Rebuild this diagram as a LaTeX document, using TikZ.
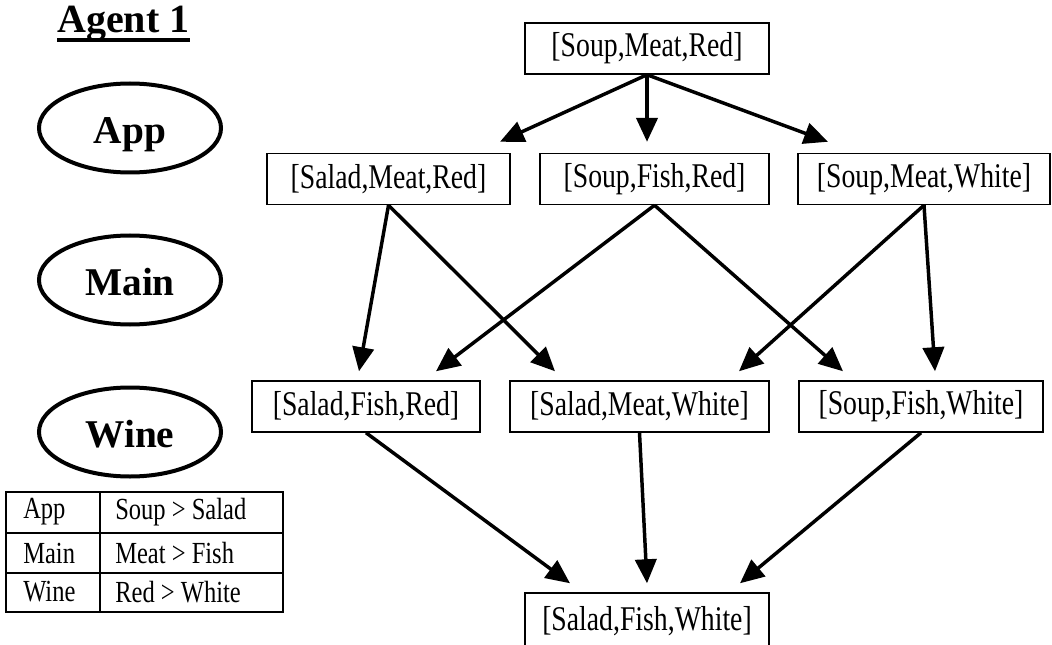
\documentclass[tikz,border=0pt]{standalone}
\usepackage{fontspec}
\setmainfont{Liberation Serif}
\newfontfamily\regfont[FakeStretch=0.8]{Liberation Serif}
\usetikzlibrary{shapes.geometric,arrows.meta,calc}
\begin{document}
\begin{tikzpicture}[x=0.75pt,y=-0.75pt,
 state/.style={draw,line width=1.1pt,rectangle,minimum height=51*0.75pt,inner sep=0pt,font=\regfont\fontsize{26}{30}\selectfont},
 bw/.style={minimum width=#1*0.75pt},
 arr/.style={line width=2.6pt,-{Triangle[length=18pt,width=16pt]}},
 oval/.style={line width=3pt},
 lvltext/.style={anchor=base,inner sep=0pt,font=\bfseries\fontsize{29.5}{34}\selectfont},
 cell/.style={anchor=west,inner sep=0pt,font=\regfont\fontsize{23}{26}\selectfont},
 tbl/.style={line width=1.4pt}
]
\useasboundingbox (0,0) rectangle (1052,645);
% title
\node[anchor=base west,inner sep=0pt,font=\bfseries\fontsize{30}{34}\selectfont] (title) at (57,33) {Agent 1};
\draw[line width=3pt] ($(title.base west)+(0,7)$) -- ($(title.base east)+(0,7)$);
% level ellipses
\coordinate (appc) at (130,128);
\coordinate (mainc) at (130,280);
\coordinate (winec) at (130,432);
\draw[oval] (appc) ellipse [x radius=91, y radius=44.5];
\draw[oval] (mainc) ellipse [x radius=91, y radius=44.5];
\draw[oval] (winec) ellipse [x radius=91, y radius=44.5];
\node[lvltext] (app) at (130,144) {App};
\node[lvltext] (main) at (130,295) {Main};
\node[lvltext] (wine) at (130,447) {Wine};
% table
\draw[tbl] (6,492) rectangle (283,612);
\draw[tbl] (6,533) -- (283,533);
\draw[tbl] (6,573) -- (283,573);
\draw[tbl] (100,492) -- (100,612);
\node[cell] (ta) at (23,512) {App};
\node[cell] (tb) at (115,512) {Soup > Salad};
\node[cell] (tc) at (23,553) {Main};
\node[cell] (td) at (115,553) {Meat > Fish};
\node[cell] (te) at (23,592) {Wine};
\node[cell] (tf) at (115,592) {Red > White};
% lattice
\node[state,bw=244] (top) at (647,48.5) {[Soup,Meat,Red]};
\node[state,bw=243] (smr) at (388.5,179) {[Salad,Meat,Red]};
\node[state,bw=229] (sfr) at (654.5,179) {[Soup,Fish,Red]};
\node[state,bw=252] (smw) at (924,179) {[Soup,Meat,White]};
\node[state,bw=228] (safr) at (366,406.5) {[Salad,Fish,Red]};
\node[state,bw=259] (samw) at (639.5,406.5) {[Salad,Meat,White]};
\node[state,bw=244] (sofw) at (921,406.5) {[Soup,Fish,White]};
\node[state,bw=244,minimum height=57*0.75pt] (bot) at (647,621.5) {[Salad,Fish,White]};
% arrows
\draw[arr] (top.south) -- ($(smr.north)+(111.5,-11)$);
\draw[arr] (top.south) -- ($(sfr.north)+(-7.5,-11)$);
\draw[arr] (top.south) -- ($(smw.north)+(-96,-11)$);
\draw[arr] (smr.south) -- ($(safr.north)+(-7,-9)$);
\draw[arr] (smr.south) -- ($(samw.north)+(-84.5,-9)$);
\draw[arr] (sfr.south) -- ($(safr.north)+(70,-9)$);
\draw[arr] (sfr.south) -- ($(sofw.north)+(-78,-9)$);
\draw[arr] (smw.south) -- ($(samw.north)+(99.5,-9)$);
\draw[arr] (smw.south) -- ($(sofw.north)+(14,-9)$);
\draw[arr] (safr.south) -- ($(bot.north)+(-77,-9)$);
\draw[arr] (samw.south) -- ($(bot.north)+(0,-9)$);
\draw[arr] (sofw.south) -- ($(bot.north)+(93,-9)$);
\end{tikzpicture}
\end{document}
